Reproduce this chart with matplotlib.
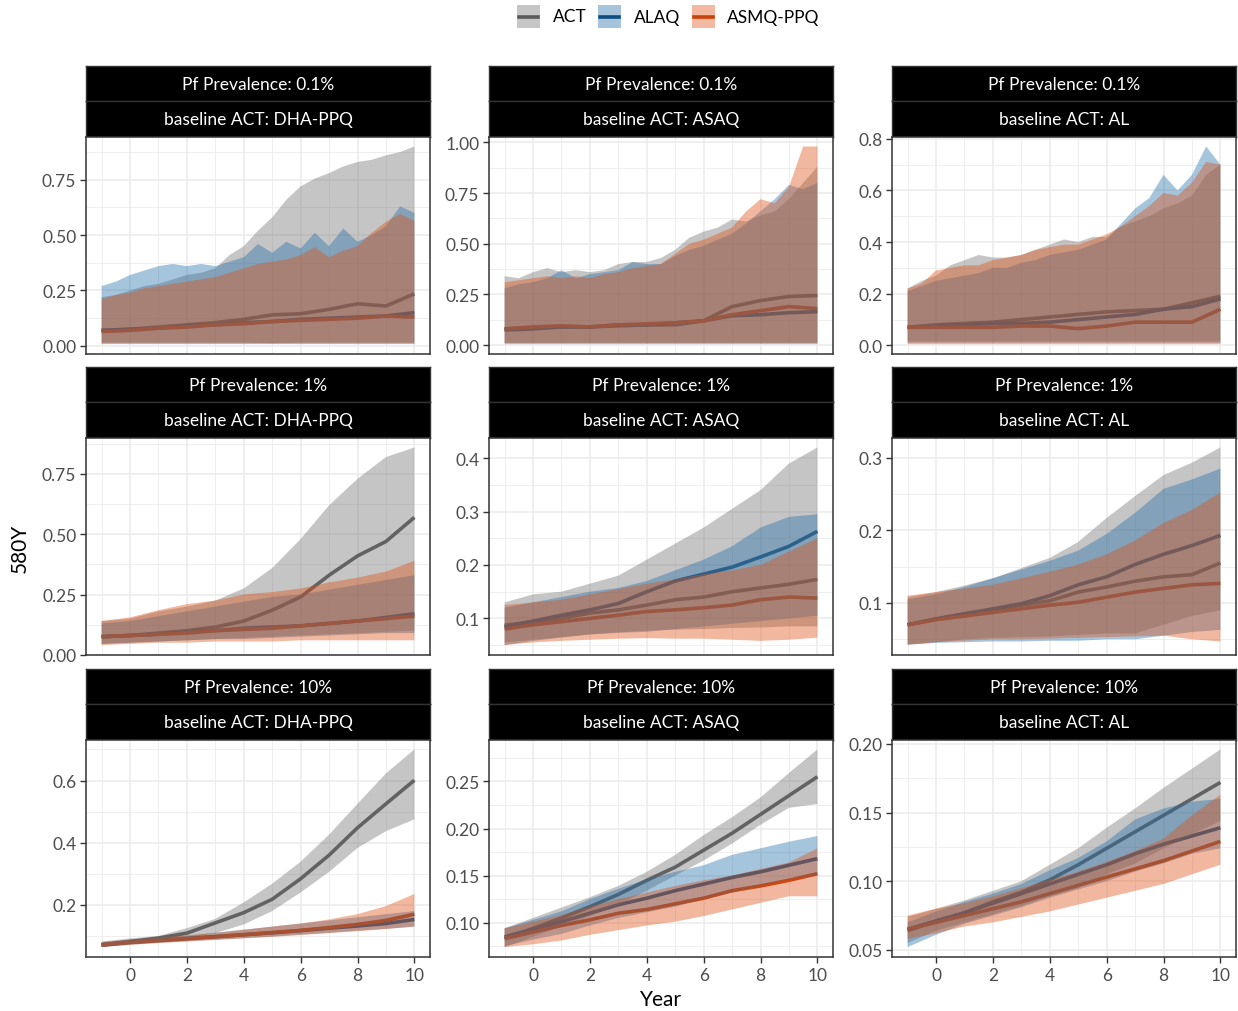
import numpy as np
import matplotlib
matplotlib.use("Agg")
import matplotlib.pyplot as plt
from matplotlib.ticker import AutoMinorLocator, FixedLocator
from matplotlib.patches import Rectangle
from matplotlib.lines import Line2D

plt.rcParams["font.family"] = ["Lato", "DejaVu Sans"]

# ---------------- data ----------------
YEARS = [-1, 0, 1, 2, 3, 4, 5, 6, 7, 8, 9, 10]
YEARS_HALF = [-1, -0.5, 0, 0.5, 1, 1.5, 2, 2.5, 3, 3.5, 4, 4.5, 5,
              5.5, 6, 6.5, 7, 7.5, 8, 8.5, 9, 9.5, 10]

prevalence = ["0.1%", "1%", "10%"]
baseline = ["DHA-PPQ", "ASAQ", "AL"]
drugs = ["ACT", "ALAQ", "ASMQ-PPQ"]

# Pf 0.1% / DHA-PPQ
a_act_hi = [0.22, 0.23, 0.25, 0.27, 0.28, 0.30, 0.32, 0.33, 0.35, 0.41, 0.45, 0.52, 0.58,
            0.66, 0.72, 0.755, 0.78, 0.81, 0.83, 0.84, 0.86, 0.875, 0.90]
a_act_med = [0.07, 0.075, 0.085, 0.095, 0.105, 0.12, 0.14, 0.145, 0.165, 0.19, 0.18, 0.235]
a_act_lo = [0.015, 0.015, 0.015, 0.015, 0.015, 0.015, 0.012, 0.015, 0.015, 0.015, 0.015, 0.015]
a_alaq_hi = [0.27, 0.29, 0.32, 0.34, 0.36, 0.37, 0.36, 0.37, 0.36, 0.38, 0.40, 0.46, 0.42,
             0.47, 0.44, 0.51, 0.45, 0.53, 0.47, 0.50, 0.54, 0.63, 0.60]
a_alaq_med = [0.07, 0.075, 0.08, 0.09, 0.095, 0.105, 0.11, 0.12, 0.125, 0.13, 0.135, 0.15]
a_alaq_lo = [0.008, 0.008, 0.008, 0.008, 0.008, 0.008, 0.008, 0.008, 0.008, 0.008, 0.008, 0.008]
a_asmq_hi = [0.21, 0.23, 0.24, 0.26, 0.27, 0.28, 0.29, 0.30, 0.31, 0.33, 0.35, 0.37, 0.38,
             0.39, 0.41, 0.445, 0.40, 0.43, 0.45, 0.51, 0.56, 0.595, 0.565]
a_asmq_med = [0.065, 0.07, 0.08, 0.085, 0.095, 0.10, 0.11, 0.115, 0.12, 0.125, 0.135, 0.13]
a_asmq_lo = [0.012, 0.012, 0.012, 0.012, 0.012, 0.012, 0.012, 0.012, 0.012, 0.012, 0.012, 0.012]

# Pf 0.1% / ASAQ
b_act_hi = [0.34, 0.33, 0.36, 0.38, 0.36, 0.37, 0.36, 0.37, 0.40, 0.41, 0.41, 0.43, 0.47,
            0.53, 0.56, 0.58, 0.62, 0.61, 0.64, 0.66, 0.72, 0.80, 0.88]
b_act_med = [0.08, 0.085, 0.09, 0.09, 0.095, 0.10, 0.10, 0.12, 0.19, 0.22, 0.24, 0.245]
b_act_lo = [0.012, 0.012, 0.012, 0.012, 0.012, 0.012, 0.012, 0.012, 0.012, 0.012, 0.012, 0.012]
b_alaq_hi = [0.28, 0.30, 0.31, 0.33, 0.37, 0.33, 0.35, 0.36, 0.37, 0.41, 0.40, 0.40, 0.44,
             0.47, 0.49, 0.52, 0.55, 0.60, 0.66, 0.72, 0.79, 0.77, 0.80]
b_alaq_med = [0.075, 0.08, 0.09, 0.09, 0.10, 0.10, 0.11, 0.12, 0.145, 0.15, 0.16, 0.165]
b_alaq_lo = [0.005, 0.005, 0.005, 0.005, 0.005, 0.005, 0.005, 0.005, 0.005, 0.005, 0.005, 0.005]
b_asmq_hi = [0.31, 0.32, 0.33, 0.34, 0.33, 0.34, 0.33, 0.35, 0.36, 0.38, 0.39, 0.40, 0.45,
             0.50, 0.52, 0.55, 0.58, 0.66, 0.72, 0.70, 0.78, 0.98, 0.98]
b_asmq_med = [0.08, 0.09, 0.095, 0.09, 0.10, 0.105, 0.11, 0.12, 0.15, 0.17, 0.19, 0.18]
b_asmq_lo = [0.01, 0.01, 0.01, 0.01, 0.01, 0.01, 0.01, 0.01, 0.01, 0.01, 0.01, 0.01]

# Pf 0.1% / AL
c_act_hi = [0.22, 0.25, 0.27, 0.31, 0.33, 0.35, 0.34, 0.34, 0.35, 0.37, 0.39, 0.41, 0.40,
            0.42, 0.42, 0.46, 0.48, 0.50, 0.53, 0.55, 0.58, 0.66, 0.70]
c_act_med = [0.07, 0.08, 0.085, 0.09, 0.10, 0.11, 0.12, 0.13, 0.135, 0.14, 0.165, 0.19]
c_act_lo = [0.015, 0.015, 0.015, 0.015, 0.015, 0.015, 0.015, 0.015, 0.015, 0.015, 0.015, 0.015]
c_alaq_hi = [0.21, 0.23, 0.25, 0.26, 0.27, 0.28, 0.30, 0.30, 0.32, 0.33, 0.35, 0.36, 0.37,
             0.39, 0.41, 0.47, 0.53, 0.57, 0.66, 0.60, 0.66, 0.77, 0.70]
c_alaq_med = [0.07, 0.075, 0.08, 0.085, 0.085, 0.09, 0.10, 0.11, 0.12, 0.14, 0.15, 0.18]
c_alaq_lo = [0.01, 0.01, 0.01, 0.01, 0.01, 0.01, 0.01, 0.01, 0.01, 0.01, 0.01, 0.01]
c_asmq_hi = [0.22, 0.24, 0.29, 0.30, 0.31, 0.31, 0.33, 0.34, 0.35, 0.37, 0.38, 0.39, 0.39,
             0.41, 0.43, 0.46, 0.50, 0.54, 0.59, 0.58, 0.63, 0.71, 0.70]
c_asmq_med = [0.07, 0.07, 0.07, 0.07, 0.075, 0.075, 0.065, 0.075, 0.09, 0.09, 0.09, 0.14]
c_asmq_lo = [0.005, 0.005, 0.005, 0.005, 0.005, 0.005, 0.005, 0.005, 0.005, 0.005, 0.005, 0.005]

# Pf 1% / DHA-PPQ
d_act_hi = [0.14, 0.15, 0.18, 0.20, 0.225, 0.275, 0.36, 0.48, 0.62, 0.73, 0.82, 0.86]
d_act_med = [0.075, 0.08, 0.09, 0.10, 0.115, 0.14, 0.185, 0.24, 0.33, 0.41, 0.47, 0.57]
d_act_lo = [0.045, 0.05, 0.055, 0.06, 0.065, 0.07, 0.075, 0.08, 0.085, 0.09, 0.095, 0.10]
d_alaq_hi = [0.13, 0.14, 0.16, 0.18, 0.20, 0.22, 0.24, 0.25, 0.27, 0.29, 0.31, 0.33]
d_alaq_med = [0.075, 0.08, 0.085, 0.095, 0.10, 0.11, 0.115, 0.12, 0.13, 0.14, 0.155, 0.17]
d_alaq_lo = [0.045, 0.05, 0.055, 0.06, 0.065, 0.065, 0.07, 0.075, 0.08, 0.085, 0.09, 0.09]
d_asmq_hi = [0.14, 0.155, 0.185, 0.21, 0.225, 0.25, 0.26, 0.275, 0.30, 0.32, 0.345, 0.39]
d_asmq_med = [0.075, 0.08, 0.085, 0.09, 0.10, 0.105, 0.11, 0.12, 0.13, 0.14, 0.15, 0.16]
d_asmq_lo = [0.04, 0.045, 0.05, 0.05, 0.055, 0.055, 0.055, 0.06, 0.06, 0.06, 0.06, 0.06]

# Pf 1% / ASAQ
e_act_hi = [0.13, 0.145, 0.15, 0.165, 0.18, 0.21, 0.24, 0.27, 0.305, 0.34, 0.39, 0.42]
e_act_med = [0.087, 0.094, 0.10, 0.11, 0.116, 0.125, 0.135, 0.14, 0.15, 0.157, 0.164, 0.173]
e_act_lo = [0.055, 0.06, 0.065, 0.07, 0.074, 0.077, 0.079, 0.08, 0.082, 0.083, 0.085, 0.085]
e_alaq_hi = [0.12, 0.13, 0.14, 0.15, 0.157, 0.17, 0.19, 0.21, 0.235, 0.27, 0.29, 0.295]
e_alaq_med = [0.084, 0.095, 0.106, 0.116, 0.128, 0.15, 0.17, 0.183, 0.196, 0.215, 0.235, 0.263]
e_alaq_lo = [0.05, 0.058, 0.064, 0.07, 0.073, 0.075, 0.08, 0.085, 0.09, 0.095, 0.10, 0.105]
e_asmq_hi = [0.125, 0.13, 0.135, 0.145, 0.155, 0.165, 0.173, 0.183, 0.19, 0.20, 0.225, 0.25]
e_asmq_med = [0.08, 0.088, 0.094, 0.10, 0.106, 0.113, 0.116, 0.12, 0.125, 0.135, 0.14, 0.138]
e_asmq_lo = [0.05, 0.055, 0.058, 0.06, 0.062, 0.063, 0.062, 0.062, 0.06, 0.058, 0.06, 0.064]

# Pf 1% / AL
f_act_hi = [0.108, 0.115, 0.124, 0.134, 0.148, 0.162, 0.184, 0.217, 0.247, 0.276, 0.293, 0.314]
f_act_med = [0.07, 0.078, 0.085, 0.09, 0.097, 0.103, 0.115, 0.122, 0.13, 0.136, 0.139, 0.155]
f_act_lo = [0.042, 0.046, 0.05, 0.052, 0.053, 0.054, 0.056, 0.058, 0.058, 0.07, 0.082, 0.09]
f_alaq_hi = [0.105, 0.112, 0.122, 0.134, 0.146, 0.158, 0.172, 0.195, 0.224, 0.257, 0.27, 0.285]
f_alaq_med = [0.07, 0.078, 0.085, 0.092, 0.099, 0.11, 0.125, 0.136, 0.153, 0.167, 0.179, 0.193]
f_alaq_lo = [0.043, 0.045, 0.046, 0.047, 0.047, 0.048, 0.048, 0.05, 0.05, 0.055, 0.06, 0.063]
f_asmq_hi = [0.11, 0.115, 0.12, 0.125, 0.134, 0.143, 0.153, 0.167, 0.186, 0.21, 0.228, 0.252]
f_asmq_med = [0.07, 0.077, 0.082, 0.087, 0.092, 0.097, 0.101, 0.108, 0.115, 0.12, 0.125, 0.127]
f_asmq_lo = [0.043, 0.046, 0.048, 0.05, 0.05, 0.051, 0.052, 0.053, 0.054, 0.055, 0.05, 0.047]

# Pf 10% / DHA-PPQ
g_act_hi = [0.082, 0.092, 0.10, 0.125, 0.155, 0.208, 0.268, 0.339, 0.426, 0.525, 0.623, 0.70]
g_act_med = [0.071, 0.082, 0.093, 0.109, 0.142, 0.175, 0.218, 0.284, 0.36, 0.448, 0.525, 0.601]
g_act_lo = [0.065, 0.074, 0.082, 0.093, 0.109, 0.137, 0.18, 0.24, 0.306, 0.383, 0.437, 0.475]
g_alaq_hi = [0.08, 0.088, 0.095, 0.10, 0.11, 0.12, 0.13, 0.14, 0.15, 0.16, 0.17, 0.18]
g_alaq_med = [0.071, 0.08, 0.086, 0.092, 0.098, 0.104, 0.11, 0.117, 0.125, 0.132, 0.14, 0.153]
g_alaq_lo = [0.064, 0.072, 0.078, 0.083, 0.088, 0.093, 0.098, 0.104, 0.11, 0.117, 0.123, 0.13]
g_asmq_hi = [0.08, 0.088, 0.095, 0.102, 0.11, 0.12, 0.13, 0.14, 0.153, 0.17, 0.196, 0.235]
g_asmq_med = [0.071, 0.079, 0.085, 0.091, 0.097, 0.104, 0.111, 0.118, 0.127, 0.137, 0.15, 0.17]
g_asmq_lo = [0.064, 0.071, 0.077, 0.082, 0.087, 0.092, 0.097, 0.103, 0.109, 0.115, 0.122, 0.13]

# Pf 10% / ASAQ
h_act_hi = [0.094, 0.105, 0.116, 0.127, 0.139, 0.154, 0.172, 0.193, 0.212, 0.233, 0.259, 0.284]
h_act_med = [0.083, 0.094, 0.105, 0.117, 0.13, 0.145, 0.159, 0.177, 0.195, 0.215, 0.235, 0.255]
h_act_lo = [0.074, 0.085, 0.096, 0.107, 0.119, 0.134, 0.15, 0.166, 0.184, 0.204, 0.222, 0.226]
h_alaq_hi = [0.094, 0.103, 0.112, 0.125, 0.136, 0.146, 0.154, 0.161, 0.172, 0.179, 0.186, 0.192]
h_alaq_med = [0.085, 0.093, 0.101, 0.11, 0.119, 0.126, 0.134, 0.141, 0.148, 0.154, 0.161, 0.168]
h_alaq_lo = [0.075, 0.082, 0.088, 0.097, 0.105, 0.111, 0.117, 0.125, 0.132, 0.139, 0.146, 0.15]
h_asmq_hi = [0.094, 0.101, 0.108, 0.117, 0.125, 0.132, 0.139, 0.145, 0.15, 0.157, 0.164, 0.179]
h_asmq_med = [0.083, 0.09, 0.097, 0.103, 0.11, 0.114, 0.12, 0.126, 0.134, 0.139, 0.145, 0.152]
h_asmq_lo = [0.074, 0.077, 0.081, 0.087, 0.092, 0.097, 0.101, 0.107, 0.114, 0.121, 0.128, 0.128]

# Pf 10% / AL
i_act_hi = [0.074, 0.08, 0.086, 0.093, 0.10, 0.112, 0.124, 0.139, 0.153, 0.168, 0.182, 0.196]
i_act_med = [0.064, 0.071, 0.077, 0.085, 0.092, 0.101, 0.112, 0.124, 0.136, 0.148, 0.16, 0.172]
i_act_lo = [0.055, 0.064, 0.07, 0.076, 0.082, 0.089, 0.095, 0.105, 0.113, 0.124, 0.134, 0.144]
i_alaq_hi = [0.07, 0.078, 0.085, 0.091, 0.098, 0.108, 0.117, 0.129, 0.145, 0.153, 0.158, 0.16]
i_alaq_med = [0.065, 0.071, 0.077, 0.084, 0.091, 0.098, 0.105, 0.112, 0.12, 0.127, 0.133, 0.139]
i_alaq_lo = [0.052, 0.061, 0.069, 0.075, 0.081, 0.088, 0.094, 0.10, 0.107, 0.113, 0.12, 0.124]
i_asmq_hi = [0.075, 0.08, 0.084, 0.089, 0.095, 0.101, 0.107, 0.114, 0.122, 0.131, 0.148, 0.163]
i_asmq_med = [0.065, 0.07, 0.075, 0.08, 0.085, 0.091, 0.097, 0.103, 0.109, 0.115, 0.122, 0.129]
i_asmq_lo = [0.058, 0.062, 0.067, 0.07, 0.074, 0.078, 0.083, 0.088, 0.093, 0.098, 0.105, 0.112]

panels = [
    [(a_act_lo, a_act_med, a_act_hi), (a_alaq_lo, a_alaq_med, a_alaq_hi), (a_asmq_lo, a_asmq_med, a_asmq_hi)],
    [(b_act_lo, b_act_med, b_act_hi), (b_alaq_lo, b_alaq_med, b_alaq_hi), (b_asmq_lo, b_asmq_med, b_asmq_hi)],
    [(c_act_lo, c_act_med, c_act_hi), (c_alaq_lo, c_alaq_med, c_alaq_hi), (c_asmq_lo, c_asmq_med, c_asmq_hi)],
    [(d_act_lo, d_act_med, d_act_hi), (d_alaq_lo, d_alaq_med, d_alaq_hi), (d_asmq_lo, d_asmq_med, d_asmq_hi)],
    [(e_act_lo, e_act_med, e_act_hi), (e_alaq_lo, e_alaq_med, e_alaq_hi), (e_asmq_lo, e_asmq_med, e_asmq_hi)],
    [(f_act_lo, f_act_med, f_act_hi), (f_alaq_lo, f_alaq_med, f_alaq_hi), (f_asmq_lo, f_asmq_med, f_asmq_hi)],
    [(g_act_lo, g_act_med, g_act_hi), (g_alaq_lo, g_alaq_med, g_alaq_hi), (g_asmq_lo, g_asmq_med, g_asmq_hi)],
    [(h_act_lo, h_act_med, h_act_hi), (h_alaq_lo, h_alaq_med, h_alaq_hi), (h_asmq_lo, h_asmq_med, h_asmq_hi)],
    [(i_act_lo, i_act_med, i_act_hi), (i_alaq_lo, i_alaq_med, i_alaq_hi), (i_asmq_lo, i_asmq_med, i_asmq_hi)],
]

y_ticks = [
    [0.0, 0.25, 0.5, 0.75], [0.0, 0.25, 0.5, 0.75, 1.0], [0.0, 0.2, 0.4, 0.6, 0.8],
    [0.0, 0.25, 0.5, 0.75], [0.1, 0.2, 0.3, 0.4], [0.1, 0.2, 0.3],
    [0.2, 0.4, 0.6], [0.10, 0.15, 0.20, 0.25], [0.05, 0.10, 0.15, 0.20],
]
y_fmt = ["{:.2f}", "{:.2f}", "{:.1f}", "{:.2f}", "{:.1f}", "{:.1f}", "{:.1f}", "{:.2f}", "{:.2f}"]

# ---------------- styling ----------------
fill_cols = ["#707070", "#206eaa", "#de4d11"]
line_cols = ["#5a5a5a", "#0d4d80", "#c8420a"]
key_fill = ["#c6c6c6", "#a6c5dd", "#f2b8a0"]
ALPHA = 0.4

W, H = 1238, 1012
fig = plt.figure(figsize=(W / 100, H / 100), dpi=100)


def frect(x0, y0, x1, y1):
    return [x0 / W, 1 - y1 / H, (x1 - x0) / W, (y1 - y0) / H]


col_x = [86, 489, 892]
pw = 344
row_top = [67, 368, 670]
plot_bot = [355, 656, 958]

for k in range(9):
    r, c = divmod(k, 3)
    x0 = col_x[c]
    t = row_top[r]

    # two strips
    for j, lab in enumerate(["Pf Prevalence: " + prevalence[r], "baseline ACT: " + baseline[c]]):
        sa = fig.add_axes(frect(x0, t + j * 35.3, x0 + pw, t + (j + 1) * 35.3))
        sa.set_facecolor("black")
        sa.set_xticks([])
        sa.set_yticks([])
        for s in sa.spines.values():
            s.set_color("#333333")
            s.set_linewidth(1.0)
        sa.text(0.5, 0.5, lab, color="white", fontsize=12.5, ha="center", va="center",
                transform=sa.transAxes)

    ax = fig.add_axes(frect(x0, t + 70.6, x0 + pw, plot_bot[r]))
    series = panels[k]
    # lines first, ribbons drawn over them
    for d, (lo, med, hi) in enumerate(series):
        ax.plot(YEARS, med, color=line_cols[d], lw=2.6, zorder=2, solid_capstyle="butt")
    for d, (lo, med, hi) in enumerate(series):
        xh = YEARS_HALF if len(hi) == len(YEARS_HALF) else YEARS
        px = list(xh) + YEARS[::-1]
        py = list(hi) + lo[::-1]
        ax.fill(px, py, color=fill_cols[d], alpha=ALPHA, lw=0, zorder=3)

    ax.set_xlim(-1.55, 10.55)
    ax.margins(y=0.05)
    ax.set_xticks([0, 2, 4, 6, 8, 10])
    ax.xaxis.set_minor_locator(FixedLocator([-1, 1, 3, 5, 7, 9]))
    ax.yaxis.set_major_locator(FixedLocator(y_ticks[k]))
    yt = y_ticks[k]
    step = yt[1] - yt[0]
    ax.yaxis.set_minor_locator(FixedLocator([v - step / 2 for v in yt] + [yt[-1] + step / 2]))
    ax.set_yticklabels([y_fmt[k].format(v) for v in yt])
    ax.grid(which="major", color="#ebebeb", lw=1.1, zorder=0)
    ax.grid(which="minor", color="#ebebeb", lw=0.6, zorder=0)
    ax.set_axisbelow(True)
    ax.tick_params(axis="both", which="major", length=4, width=1, color="#333333",
                   labelsize=12.5, labelcolor="#4d4d4d", pad=3)
    ax.tick_params(axis="both", which="minor", length=0)
    if r < 2:
        ax.tick_params(axis="x", which="major", length=0, labelbottom=False)
    for s in ax.spines.values():
        s.set_color("#333333")
        s.set_linewidth(1.1)

fig.text(661 / W, 1 - 1000 / H, "Year", fontsize=15, ha="center", va="center", color="black")
fig.text(20 / W, 1 - 548 / H, "580Y", fontsize=15, ha="center", va="center",
         rotation=90, color="black")

# legend at top
key_x = [517, 598, 692]
lab_x = [553, 634, 727]
for d in range(3):
    fig.add_artist(Rectangle((key_x[d] / W, 1 - 29 / H), 23 / W, 23 / H,
                             transform=fig.transFigure, facecolor=key_fill[d], edgecolor="none"))
    fig.add_artist(Line2D([(key_x[d] + 2) / W, (key_x[d] + 21) / W], [1 - 17.5 / H, 1 - 17.5 / H],
                          transform=fig.transFigure, color=line_cols[d], lw=2.6))
    fig.text(lab_x[d] / W, 1 - 17.5 / H, drugs[d], fontsize=12.5, ha="left", va="center")

fig.savefig("out.png", dpi=100)
